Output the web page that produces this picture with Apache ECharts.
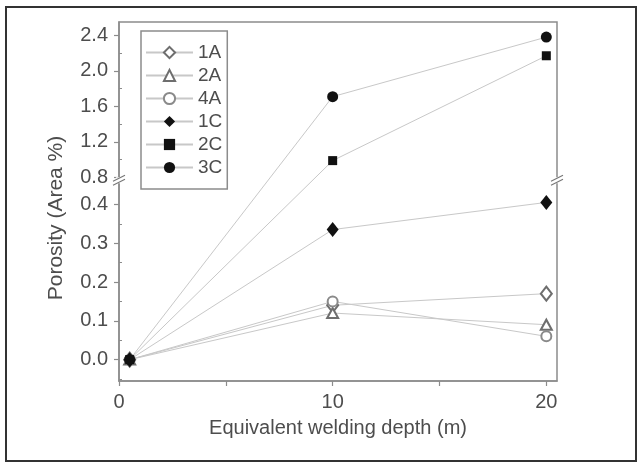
<!DOCTYPE html>
<html><head><meta charset="utf-8">
<script src="https://cdn.jsdelivr.net/npm/echarts@6/dist/echarts.min.js"></script>
<style>html,body{margin:0;padding:0;background:#fff}#c{width:642px;height:468px}</style>
</head><body><div id="c"></div>
<script>
// ---- data ----
const depths = [0.5, 10, 20];
const seriesNames = ['1A', '2A', '4A', '1C', '2C', '3C'];
const s1A = [0, 0.14, 0.17];
const s2A = [0, 0.12, 0.09];
const s4A = [0, 0.15, 0.06];
const s1C = [0, 0.335, 0.405];
const s2C = [0, 0.99, 2.17];
const s3C = [0, 1.71, 2.38];
const xTickLabels = [0, 10, 20];
const xTickMarks = [0, 5, 10, 15, 20];
const lowerTickLabels = [0, 0.1, 0.2, 0.3, 0.4];
const lowerMinorTicks = [-0.05, 0.05, 0.15, 0.25, 0.35];
const upperTickLabels = [0.8, 1.2, 1.6, 2.0, 2.4];
const upperMinorTicks = [1.0, 1.4, 1.8, 2.2];
const xRange = [0, 20.5];
const lowerRange = [-0.055, 0.455];
const upperRange = [0.8, 2.55];

// ---- style ----
const FONT = 'Liberation Sans, Arial, sans-serif';
const TXT = '#4d4d4d';
const AX = '#8c8c8c';
const LINE = '#c8c8c8';

const chart = echarts.init(document.getElementById('c'), null, {renderer: 'canvas'});

const gridMain = {left: 119, right: 85, top: 22, bottom: 87};
const gridUpper = {left: 119, right: 85, top: 22, bottom: 290.5};
const gridLower = {left: 119, right: 85, top: 183, bottom: 87};

const valueLabel = {color: TXT, fontSize: 20, fontFamily: FONT, margin: 11};

const symbols = {
  '1A': {symbol: 'emptyDiamond', size: [11, 14], color: '#6e6e6e'},
  '2A': {symbol: 'emptyTriangle', size: [11, 10], color: '#6e6e6e'},
  '4A': {symbol: 'emptyCircle', size: 10, color: '#8a8a8a'},
  '1C': {symbol: 'diamond', size: [12, 15], color: '#111'},
  '2C': {symbol: 'rect', size: 9, color: '#111'},
  '3C': {symbol: 'circle', size: 11, color: '#111'}
};
const values = {'1A': s1A, '2A': s2A, '4A': s4A, '1C': s1C, '2C': s2C, '3C': s3C};

const baseOption = {
  animation: false,
  backgroundColor: '#fff',
  grid: [
    Object.assign({show: true, borderColor: AX, borderWidth: 1.5}, gridMain),
    gridUpper,
    gridLower
  ],
  xAxis: [
    {gridIndex: 0, type: 'value', min: xRange[0], max: xRange[1], position: 'bottom',
     axisLine: {lineStyle: {color: AX, width: 1.5}},
     axisTick: {customValues: xTickMarks, length: 5, lineStyle: {color: AX, width: 1.2}},
     axisLabel: Object.assign({customValues: xTickLabels}, valueLabel),
     splitLine: {show: false},
     name: 'Equivalent welding depth (m)', nameLocation: 'middle', nameGap: 37,
     nameTextStyle: {color: TXT, fontSize: 20, fontFamily: FONT}},
    {gridIndex: 1, type: 'value', min: xRange[0], max: xRange[1], show: false},
    {gridIndex: 2, type: 'value', min: xRange[0], max: xRange[1], show: false}
  ],
  yAxis: [
    {gridIndex: 0, type: 'value', min: 0, max: 1, show: false},
    // upper segment
    {gridIndex: 1, type: 'value', min: upperRange[0], max: upperRange[1],
     axisLine: {show: true, onZero: false, lineStyle: {color: AX, width: 1.5}},
     axisTick: {customValues: upperTickLabels, length: 5, lineStyle: {color: AX, width: 1.2}},
     axisLabel: Object.assign({customValues: upperTickLabels, formatter: v => v.toFixed(1)}, valueLabel),
     splitLine: {show: false}},
    {gridIndex: 1, type: 'value', min: upperRange[0], max: upperRange[1],
     axisLine: {show: false}, axisLabel: {show: false}, splitLine: {show: false},
     axisTick: {customValues: upperMinorTicks, length: 3, lineStyle: {color: AX, width: 1}}},
    // lower segment
    {gridIndex: 2, type: 'value', min: lowerRange[0], max: lowerRange[1],
     axisLine: {show: true, onZero: false, lineStyle: {color: AX, width: 1.5}},
     axisTick: {customValues: lowerTickLabels, length: 5, lineStyle: {color: AX, width: 1.2}},
     axisLabel: Object.assign({customValues: lowerTickLabels, formatter: v => v.toFixed(1)}, valueLabel),
     splitLine: {show: false}},
    {gridIndex: 2, type: 'value', min: lowerRange[0], max: lowerRange[1],
     axisLine: {show: false}, axisLabel: {show: false}, splitLine: {show: false},
     axisTick: {customValues: lowerMinorTicks, length: 3, lineStyle: {color: AX, width: 1}}}
  ],
  legend: {
    orient: 'vertical', left: 141, top: 31,
    data: seriesNames,
    borderColor: '#8c8c8c', borderWidth: 1.5,
    padding: [12, 5, 12, 4],
    itemWidth: 47, itemHeight: 14, itemGap: 4,
    textStyle: {color: TXT, fontSize: 19, fontFamily: FONT}
  },
  series: seriesNames.map(n => ({
    name: n, type: 'line', xAxisIndex: 0, yAxisIndex: 0,
    symbol: symbols[n].symbol, symbolSize: symbols[n].size,
    showAllSymbol: true,
    itemStyle: {color: symbols[n].color, borderWidth: 1.3},
    lineStyle: {color: LINE, width: 1},
    data: []
  }))
};

chart.setOption(baseOption);

// map a value through the appropriate broken-axis segment into the main grid
function toMain(v) {
  const idx = v >= upperRange[0] ? 1 : 3;
  const px = chart.convertToPixel({yAxisIndex: idx}, v);
  return chart.convertFromPixel({yAxisIndex: 0}, px);
}

const upperBottomPx = chart.convertToPixel({yAxisIndex: 1}, upperRange[0]);
const lowerTopPx = chart.convertToPixel({yAxisIndex: 3}, lowerRange[1]);
const breakY = (upperBottomPx + lowerTopPx) / 2;
const leftX = chart.convertToPixel({xAxisIndex: 0}, xRange[0]);
const rightX = chart.convertToPixel({xAxisIndex: 0}, xRange[1]);

function breakMark(x) {
  return [
    {type: 'rect', shape: {x: x - 3, y: breakY - 3, width: 6, height: 6}, style: {fill: '#fff'}, z: 100},
    {type: 'line', shape: {x1: x - 6, y1: breakY + 1, x2: x + 6, y2: breakY - 5}, style: {stroke: '#777', lineWidth: 1.2}, z: 101},
    {type: 'line', shape: {x1: x - 6, y1: breakY + 5, x2: x + 6, y2: breakY - 1}, style: {stroke: '#777', lineWidth: 1.2}, z: 101}
  ];
}

chart.setOption({
  series: seriesNames.map(n => ({
    name: n,
    data: depths.map((d, i) => [d, toMain(values[n][i])])
  })),
  graphic: [
    {type: 'rect', shape: {x: 6, y: 7, width: 630, height: 454},
     style: {fill: 'none', stroke: '#333', lineWidth: 2}, z: 0},
    {type: 'text', x: 56, y: 218, rotation: Math.PI / 2,
     style: {text: 'Porosity (Area %)', fill: TXT, fontSize: 21, fontFamily: FONT,
             align: 'center', verticalAlign: 'middle'}}
  ].concat(breakMark(leftX), breakMark(rightX))
});
</script>
</body></html>
